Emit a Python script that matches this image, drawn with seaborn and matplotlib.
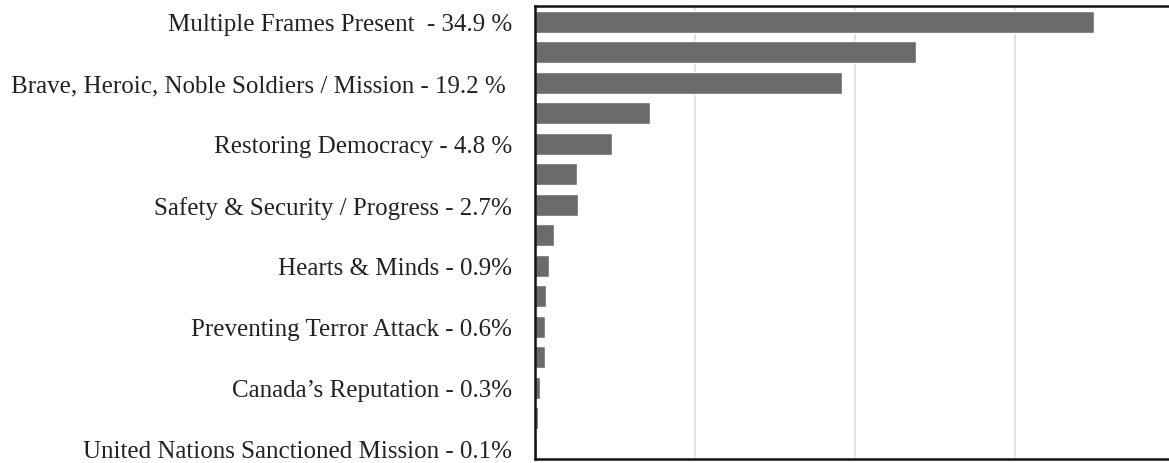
import matplotlib
matplotlib.use("Agg")
import matplotlib.pyplot as plt
import seaborn as sns
import pandas as pd

# frames, top to bottom; only every other bar carries a label in the source
frames = ["f01", "f02", "f03", "f04", "f05", "f06", "f07", "f08",
          "f09", "f10", "f11", "f12", "f13", "f14", "f15"]
percent = [34.9, 23.8, 19.2, 7.2, 4.8, 2.6, 2.7, 1.2,
           0.9, 0.7, 0.6, 0.6, 0.3, 0.2, 0.1]
tick_labels = [
  "Multiple Frames Present  - 34.9 %", "",
  "Brave, Heroic, Noble Soldiers / Mission - 19.2 % ", "",
  "Restoring Democracy - 4.8 %", "",
  "Safety & Security / Progress - 2.7%", "",
  "Hearts & Minds - 0.9%", "",
  "Preventing Terror Attack - 0.6%", "",
  "Canada\u2019s Reputation - 0.3%", "",
  "United Nations Sanctioned Mission - 0.1%",
]

df = pd.DataFrame({"frame": frames, "percent": percent})

sns.set_style("whitegrid")
plt.rcParams['font.family'] = ['Liberation Serif', 'DejaVu Serif']

fig = plt.figure(figsize=(11.69, 4.64), dpi=100)
ax = fig.add_axes([0.4577, 0.0086, 0.5423, 0.9763])

sns.barplot(data=df, x="percent", y="frame", orient="h", color="#6b6b6b",
            saturation=1, width=0.72, ax=ax)

ax.set_xlim(0, 39.6)
ax.set_ylim(14.33, -0.52)
ax.set_xticks([10, 20, 30])
ax.set_xticklabels([])
ax.set_yticks(range(len(frames)))
ax.set_yticklabels(tick_labels, fontsize=18, color="#222222")
ax.tick_params(axis="y", length=0, pad=16.5)
ax.tick_params(axis="x", length=0)
ax.set_xlabel("")
ax.set_ylabel("")
ax.grid(axis="y", visible=False)
ax.grid(axis="x", color="#dddddd", linewidth=1.2)

for side in ["left", "top", "bottom"]:
  ax.spines[side].set_color("#111111")
  ax.spines[side].set_linewidth(1.8)
ax.spines["right"].set_visible(False)

fig.savefig("out.png", dpi=100)
